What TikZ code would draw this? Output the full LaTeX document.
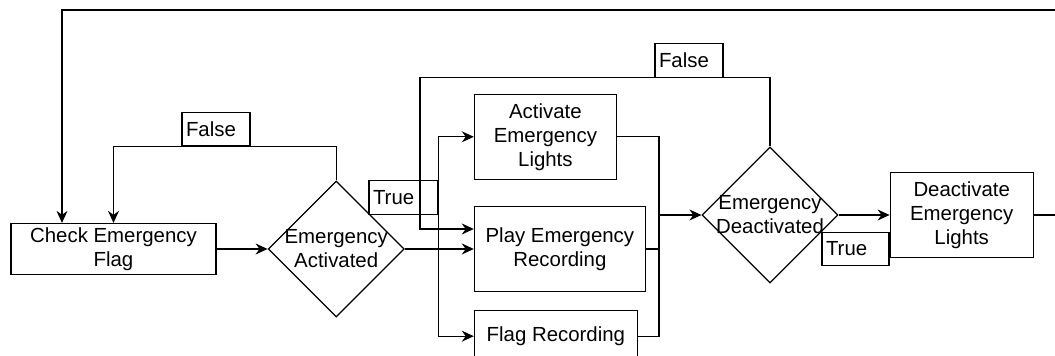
\documentclass[tikz,border=0pt]{standalone}
\usepackage{fontspec}
\setmainfont{Liberation Sans}
\usetikzlibrary{positioning,shapes.geometric,arrows.meta}

\begin{document}
\begin{tikzpicture}[x=0.5pt, y=-0.5pt, semithick,
                    >={Stealth[length=6pt,width=5.5pt]},
                    font=\fontsize{10.2}{12}\selectfont,
                    process/.style={draw, align=center, inner sep=0pt,
                    minimum height=42.5pt},
                    decision/.style={diamond, draw, inner sep=0pt,
                    minimum width=68pt, minimum height=68pt},
                    tag/.style={draw, fill=white, align=left, text width=30pt,
                    inner xsep=2pt, inner ysep=0pt, minimum height=16.75pt},
                ]
                \useasboundingbox (0,0) rectangle (1055,356);
                \clip (0,0) rectangle (1055,356);

                \node[process, minimum width=102.5pt, minimum height=25.5pt] (check) at (113.5,249) {Check Emergency\\Flag};
                \node[decision, label={[align=center]center:Emergency\\Activated}] (activated) [right=25.5pt of check] {};
                \node[process, minimum width=85.5pt] (play) [right=34.5pt of activated] {Play Emergency\\Recording};
                \node[process, minimum width=71pt] (lights) [above right=13pt and 0pt of play.north west] {Activate\\Emergency\\Lights};
                \node[process, minimum width=81.5pt, minimum height=25.5pt] (flagrec) [below right=9pt and 0pt of play.south west] {Flag Recording};
                \node[decision, label={[align=center]center:Emergency\\Deactivated}] (deactivated) at (770,215) {};
                \node[process, minimum width=71.5pt] (lightsoff) [right=25.5pt of deactivated] {Deactivate\\Emergency\\Lights};

                % edge labels
                \node[tag] (false_a) at (216,129) {False};
                \node[tag] (false_b) at (689,60.5) {False};
                \node[tag, text width=30.5pt] (true_a) at (403.5,197.5) {True};
                \node[tag, text width=29.5pt] (true_b) at (855.5,249) {True};

                \coordinate (join) at (659,215);
                \coordinate (back) at (420,229);
                \coordinate (top) at (62,10);

                \draw[->] (check.east) -- (activated.west);
                \draw[->] (activated.north) |- (false_a.south) -| (check.north);
                \draw[->] (activated.east) -- (activated.east -| play.west);
                \draw[->] (true_a.south east) |- (lights.west);
                \draw[->] (true_a.south east) |- (flagrec.west);
                \draw (lights.east) -| (join);
                \draw (flagrec.east) -| (join);
                \draw (play.east) -- (play.east -| join);
                \draw[->] (join) -- (deactivated.west);
                \draw[->] (deactivated.north) |- (false_b.south) -| (back) -- (back -| play.west);
                \draw[->] (deactivated.east) -- (lightsoff.west);
                \draw[->] (lightsoff.east) -- ++(40,0) |- (top) -- (top |- check.north);
            \end{tikzpicture}
\end{document}
